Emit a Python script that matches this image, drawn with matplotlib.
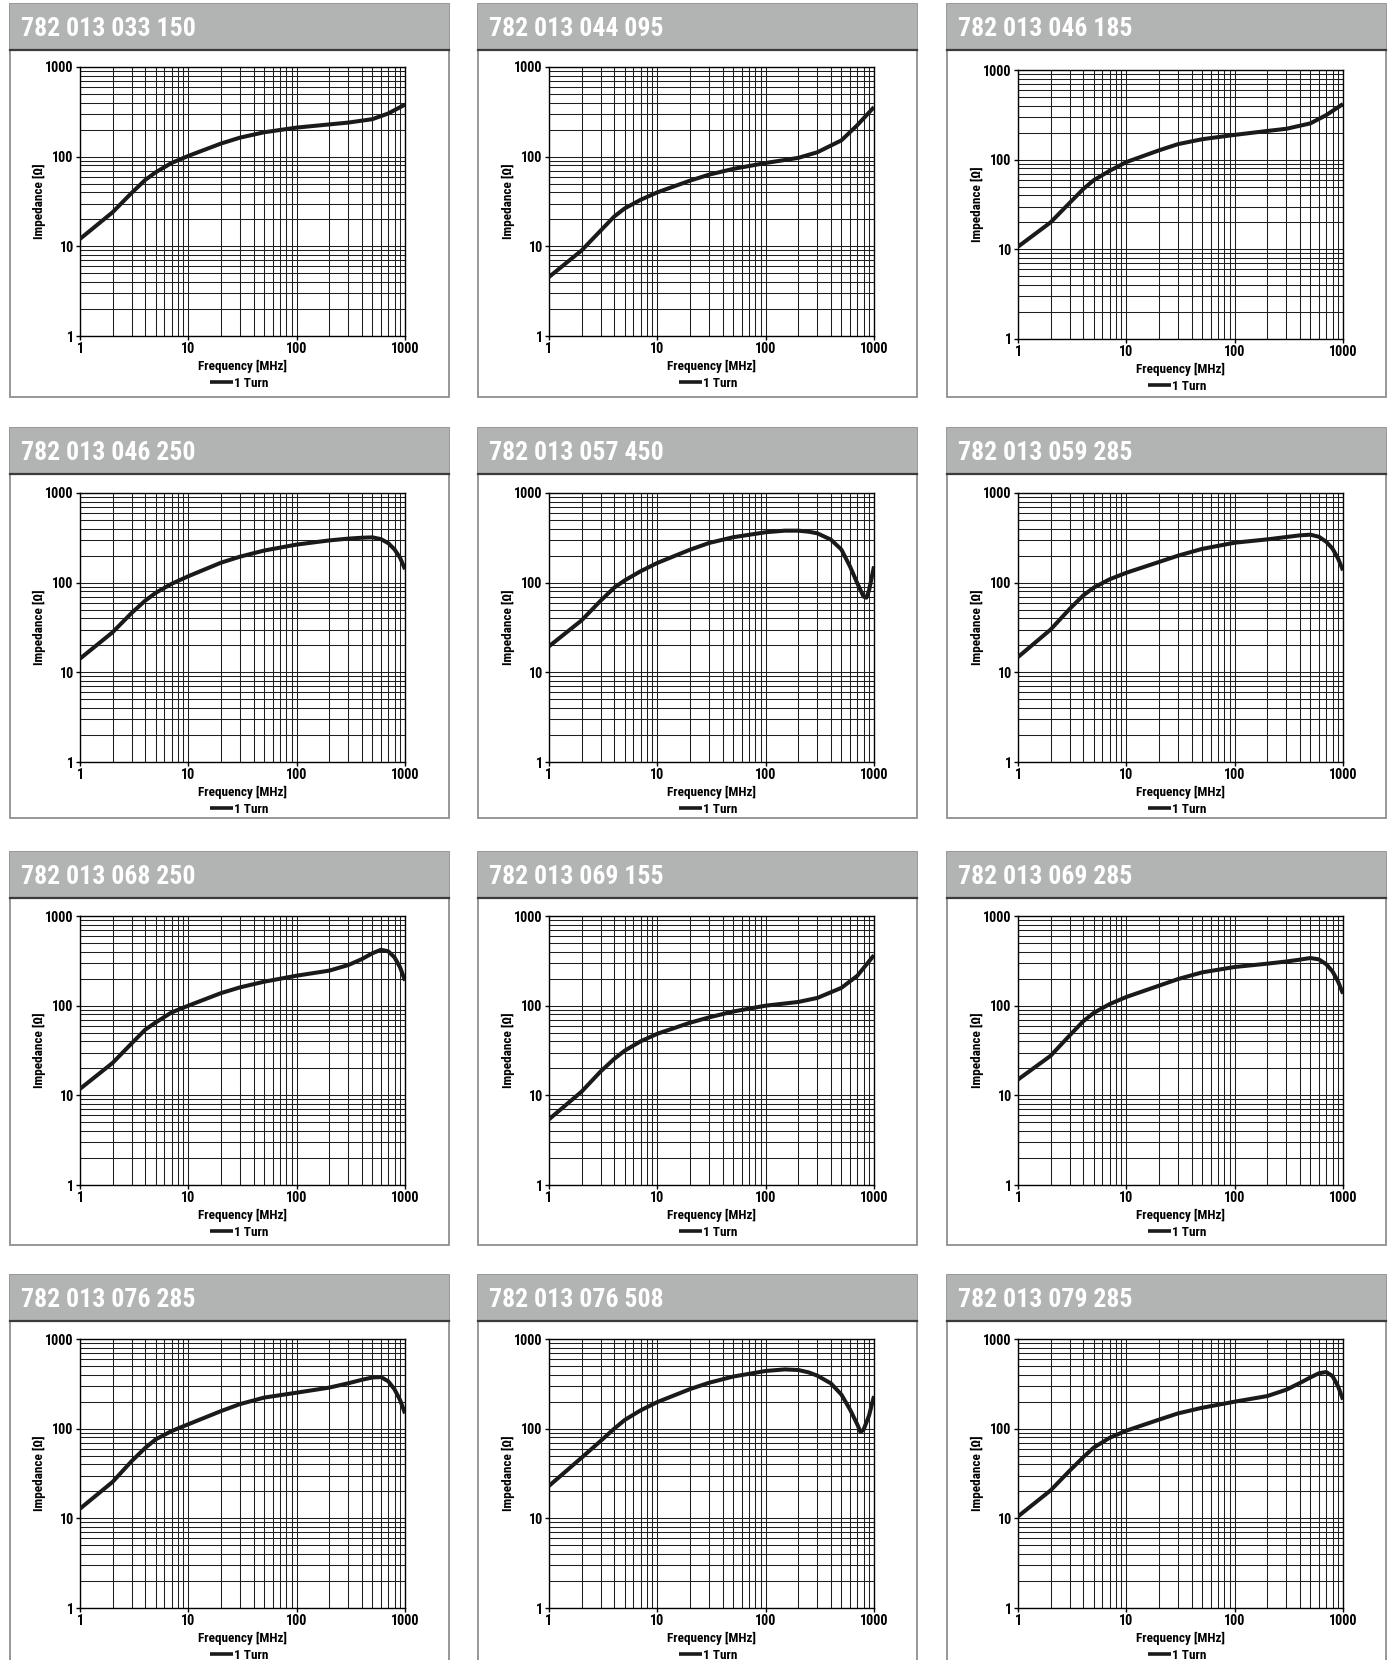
import matplotlib
matplotlib.use("Agg")
import matplotlib.pyplot as plt
from matplotlib import font_manager
from matplotlib.lines import Line2D
from matplotlib.patches import Rectangle

# ---------------- data ----------------
part_numbers = ["782 013 033 150", "782 013 044 095", "782 013 046 185",
                "782 013 046 250", "782 013 057 450", "782 013 059 285",
                "782 013 068 250", "782 013 069 155", "782 013 069 285",
                "782 013 076 285", "782 013 076 508", "782 013 079 285"]

freq_rise = [1, 2, 3, 4, 5, 7, 10, 20, 30, 50, 100, 200, 300, 500, 700, 1000]
z_033_150 = [12.1, 24, 39.5, 55, 67, 85, 102, 140, 163, 187, 211, 229, 240, 262, 303, 381]
z_044_095 = [4.55, 9.0, 15, 21.5, 26.5, 33, 40, 54, 63, 73, 85, 97, 112, 152, 224, 357]
z_046_185 = [10.7, 20, 33, 47, 59, 75, 94, 127, 149, 169, 189, 209, 221, 254, 314, 418]
z_069_155 = [5.4, 11, 18.5, 25.5, 31.5, 40, 48.6, 64.5, 74, 86, 100, 110, 122, 158, 215, 365]

freq_peak = [1, 2, 3, 4, 5, 7, 10, 20, 30, 50, 100, 200, 300, 400, 500, 600, 700, 800, 900, 1000]
z_046_250 = [14.2, 28, 46, 63, 77, 97, 118, 167, 195, 228, 266, 296, 310, 317, 320, 306, 276, 235, 190, 141]
z_059_285 = [14.8, 30, 51, 72, 88, 109, 129, 170, 200, 238, 279, 304, 323, 337, 343, 325, 286, 240, 186, 137]
z_068_250 = [11.8, 23, 38, 54, 65, 84, 100, 138, 160, 185, 216, 246, 284, 331, 384, 420, 404, 346, 268, 190]
z_069_285 = [15, 27.6, 46.6, 67, 83, 104, 125, 167, 198, 235, 270, 294, 311, 326, 340, 328, 290, 241, 186, 136]
z_076_285 = [12.8, 25.5, 43.5, 61, 76, 94, 112, 157, 188, 222, 252, 287, 321, 351, 372, 376, 338, 275, 209, 148]
z_079_285 = [10.5, 20.5, 34, 48, 61.5, 79, 95, 126, 148, 171, 200, 231, 272, 323, 373, 415, 428, 386, 297, 211]

freq_notch_a = [1, 2, 3, 4, 5, 7, 10, 20, 30, 50, 100, 150, 200, 250, 300, 400, 500, 600, 700, 800, 850, 900, 1000]
z_057_450 = [19.5, 38, 63, 88, 106, 134, 166, 233, 277, 321, 365, 380, 380, 370, 355, 302, 234, 152, 99, 70, 68, 82, 152]
freq_notch_b = [1, 2, 3, 4, 5, 7, 10, 20, 30, 50, 100, 150, 200, 250, 300, 400, 500, 600, 700, 750, 800, 900, 1000]
z_076_508 = [23, 47.5, 73, 100, 125, 160, 198, 276, 325, 381, 440, 458, 451, 424, 390, 320, 240, 164, 112, 92, 97, 140, 231]

series = [(freq_rise, z_033_150), (freq_rise, z_044_095), (freq_rise, z_046_185),
          (freq_peak, z_046_250), (freq_notch_a, z_057_450), (freq_peak, z_059_285),
          (freq_peak, z_068_250), (freq_rise, z_069_155), (freq_peak, z_069_285),
          (freq_peak, z_076_285), (freq_notch_b, z_076_508), (freq_peak, z_079_285)]

x_ticks = [1, 10, 100, 1000]
y_ticks = [1, 10, 100, 1000]
tick_labels = ["1", "10", "100", "1000"]
legend_label = "1 Turn"
x_label = "Frequency [MHz]"
y_label = "Impedance [Ω]"

# ---------------- fonts ----------------
available = {f.name for f in font_manager.fontManager.ttflist}
family = None
for cand in ["Liberation Sans Narrow", "Roboto Condensed", "Open Sans Condensed", "Liberation Sans"]:
    if cand in available:
        family = cand
        break
if family is None:
    family = "DejaVu Sans"
narrow = family in ("Liberation Sans Narrow", "Roboto Condensed", "Open Sans Condensed")
sc = 1.0 if narrow else 0.84
plt.rcParams["font.family"] = [family, "DejaVu Sans"]

# ---------------- layout ----------------
W, H = 1392, 1660
fig = plt.figure(figsize=(W / 100, H / 100), dpi=100)
fig.patch.set_facecolor("white")

def fx(x):
    return x / W

def fy(y):
    return 1 - y / H

col_left = [10, 478, 947]
row_top = [4, 428, 852, 1275]
box_h = [393, 390, 393, 400]
axes_left = [80, 549, 1018]
axes_top = [67, 493, 916, 1339]
axes_dy = [0, 0, 3, 0, 0, 0, 0, 0, 0, 0, 0, 0]
BOX_W = 439
HEAD_H = 46
AX_W = 325
AX_H = 269

header_color = "#b1b4b2"
border_color = "#8f8f8f"
TXT = 9.5 * sc

for i, (name, (fr, zz)) in enumerate(zip(part_numbers, series)):
    r, c = divmod(i, 3)
    bl, bt = col_left[c], row_top[r]
    # panel box
    fig.add_artist(Rectangle((fx(bl), fy(bt + box_h[r])), BOX_W / W, box_h[r] / H,
                             transform=fig.transFigure, facecolor="white",
                             edgecolor=border_color, lw=1.3, zorder=0))
    # header
    fig.add_artist(Rectangle((fx(bl), fy(bt + HEAD_H)), BOX_W / W, HEAD_H / H,
                             transform=fig.transFigure, facecolor=header_color,
                             edgecolor="none", zorder=1))
    fig.add_artist(Line2D([fx(bl), fx(bl + BOX_W)], [fy(bt + HEAD_H), fy(bt + HEAD_H)],
                          transform=fig.transFigure, color="#3a3a3a", lw=1.6, zorder=2))
    fig.text(fx(bl + 11), fy(bt + 25), name, color="white", fontsize=18.5 * sc,
             fontweight="bold", ha="left", va="center", zorder=3)

    top = axes_top[r] + axes_dy[i]
    ax = fig.add_axes([fx(axes_left[c]), fy(top + AX_H), AX_W / W, AX_H / H])
    ax.set_xscale("log")
    ax.set_yscale("log")
    ax.set_xlim(1, 1000)
    ax.set_ylim(1, 1000)
    ax.grid(which="both", color="#1e1e1e", lw=0.75)
    ax.set_axisbelow(True)
    line, = ax.plot(fr, zz, color="#1a1a1a", lw=2.9, solid_joinstyle="round",
                    solid_capstyle="butt", zorder=3, clip_on=True)
    ax.set_xticks(x_ticks)
    ax.set_xticklabels(tick_labels)
    ax.set_yticks(y_ticks)
    ax.set_yticklabels(tick_labels)
    ax.tick_params(which="minor", length=0)
    ax.tick_params(which="major", length=3, width=1, direction="out",
                   labelsize=10.2 * sc, pad=1.5, color="black")
    for lab in ax.get_xticklabels() + ax.get_yticklabels():
        lab.set_fontweight("bold")
    for sp in ax.spines.values():
        sp.set_color("black")
        sp.set_linewidth(1.0)
    ax.set_xlabel(x_label, fontsize=TXT, fontweight="bold")
    ax.xaxis.set_label_coords(0.5, -24 / AX_H)
    ax.set_ylabel(y_label, fontsize=TXT, fontweight="bold")
    ax.yaxis.set_label_coords(-34 / AX_W, 0.5)
    leg = ax.legend([line], [legend_label], loc="center", bbox_to_anchor=(0.49, -47.5 / AX_H),
                    frameon=False, handlelength=1.7, handletextpad=0.1,
                    borderpad=0, prop={"size": TXT, "weight": "bold"})
    leg.get_lines()[0].set_linewidth(2.6)

fig.savefig("out.png", dpi=100, facecolor="white")
